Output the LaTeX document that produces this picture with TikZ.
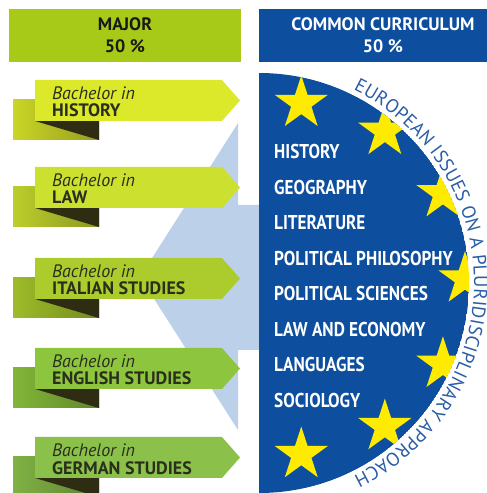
\documentclass[tikz,border=0pt]{standalone}
\usepackage{fontspec}
\setmainfont{PT Sans}
\newfontfamily\condfont[FakeStretch=0.86]{PT Sans}
\usetikzlibrary{shapes.geometric,decorations.text}

\definecolor{majorgreen}{HTML}{A7C918}
\definecolor{commonblue}{HTML}{0D4F9E}
\definecolor{arrowblue}{HTML}{BCD1E9}
\definecolor{staryellow}{HTML}{FFEB00}
\definecolor{arctext}{HTML}{2A5DA6}
\definecolor{foldbrown}{HTML}{2E2D14}
\definecolor{ribtext}{HTML}{2A2E1C}
\definecolor{ribA}{HTML}{DCE82A}
\definecolor{ribB}{HTML}{CCE030}
\definecolor{ribC}{HTML}{ABCC2C}
\definecolor{ribD}{HTML}{8DC63E}
\definecolor{ribE}{HTML}{8BC14A}

\tikzset{
  hdr/.style={minimum width=232pt, minimum height=53pt, inner sep=0pt, align=center,
    font=\fontsize{18}{22}\selectfont\bfseries},
  eustar/.style={star, star points=5, star point ratio=2.618, minimum size=56pt,
    inner sep=0pt, fill=staryellow},
  subj/.style={anchor=base west, inner sep=0pt, text=white,
    font=\condfont\fontsize{20}{20}\selectfont\bfseries},
  ribsmall/.style={anchor=base west, inner sep=0pt, text=ribtext,
    font=\fontsize{18}{18}\selectfont\itshape},
  ribbig/.style={anchor=base west, inner sep=0pt, text=ribtext,
    font=\fontsize{18}{18}\selectfont\bfseries}
}

\begin{document}
\begin{tikzpicture}[x=1pt, y=1pt]
    \useasboundingbox (0,0) rectangle (487,493);

    % Light blue arrow behind the ribbons
    \fill[arrowblue] (238,370) -- (140,216) -- (238,63) -- (238,143) -- (300,143)
        -- (300,288) -- (238,288) -- cycle;

    % Header boxes
    \node[hdr, fill=majorgreen, text=black!90] (major) at (125,457.5) {MAJOR\\50 \%};
    \node[hdr, fill=commonblue, text=white, minimum width=248pt] (common) at (383,457.5)
        {COMMON CURRICULUM\\50 \%};

    % Blue half disk with stars
    \begin{scope}
      \clip (259,420) arc[start angle=90, end angle=-90, radius=210] -- cycle;
      \fill[commonblue] (259,420) arc[start angle=90, end angle=-90, radius=210] -- cycle;
      \foreach \i/\t in {1/HISTORY, 2/GEOGRAPHY, 3/LITERATURE, 4/POLITICAL PHILOSOPHY,
          5/POLITICAL SCIENCES, 6/LAW AND ECONOMY, 7/LANGUAGES, 8/SOCIOLOGY}
        \node[subj] (subj\i) at (274,{334-35.5*(\i-1)}) {\t};
      \begin{scope}[shift={(289,214)}]
        \foreach \a [count=\k] in {86,57,29,0,-29,-57,-86}
          \node[eustar] (star\k) at (\a:176) {};
      \end{scope}
    \end{scope}

    % Text round the disk
    \path[decorate, decoration={text along path, text align={fit to path},
        text color=arctext,
        text={|\fontsize{19}{19}\selectfont|EUROPEAN ISSUES ON A PLURIDISCIPLINARY APPROACH}}]
        (259,210) ++(64:215) arc[start angle=64, end angle=-64, radius=215];

    % Ribbons
    \foreach \yt/\col/\name/\lab in {413/ribA/hist/HISTORY, 326/ribB/law/LAW,
        235/ribC/ital/ITALIAN STUDIES, 145/ribD/engl/ENGLISH STUDIES,
        56/ribE/germ/GERMAN STUDIES} {
      \shade[left color=\col!92!black, right color=\col!68!black]
          (13,\yt-20) rectangle (99,\yt-60);
      \fill[foldbrown] (35,\yt-41) -- (99,\yt-41) -- (99,\yt-60) -- cycle;
      \fill[\col] (35,\yt) -- (222,\yt) -- (240,\yt-20.5) -- (222,\yt-41)
          -- (35,\yt-41) -- cycle;
      \node[ribsmall] (\name-a) at (52,\yt-20) {Bachelor in};
      \node[ribbig] (\name-b) at (52,\yt-37) {\lab};
    }
\end{tikzpicture}
\end{document}
